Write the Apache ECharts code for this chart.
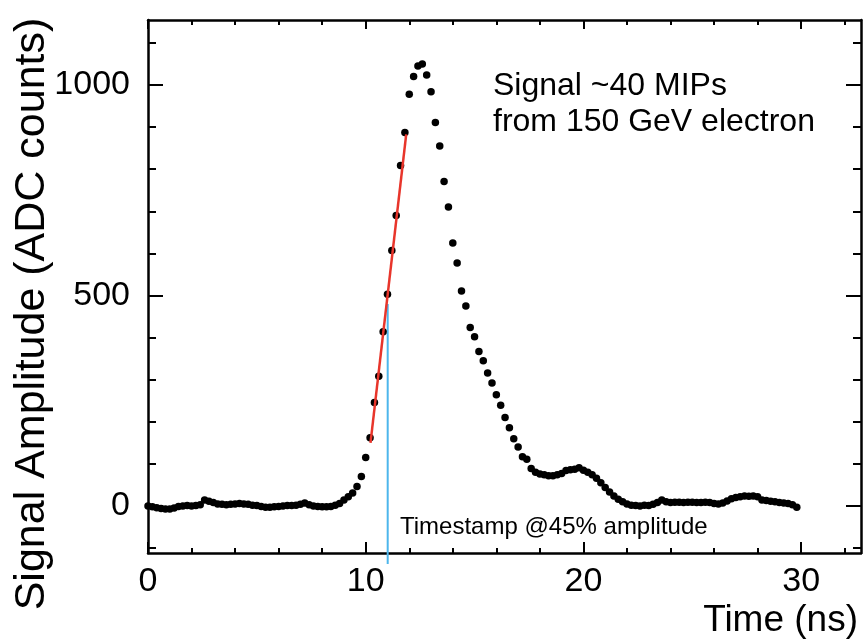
<!DOCTYPE html>
<html>
<head>
<meta charset="utf-8">
<script src="https://cdn.jsdelivr.net/npm/echarts@6/dist/echarts.min.js"></script>
<style>html,body{margin:0;padding:0;background:#fff}#c{width:864px;height:640px}</style>
</head>
<body>
<div id="c"></div>
<script>
// Sample times (ns)
var times = [
 0.0,0.2,0.4,0.6,0.8,1.0,1.2,1.4,1.6,1.8,
 2.0,2.2,2.4,2.6,2.8,3.0,3.2,3.4,3.6,3.8,
 4.0,4.2,4.4,4.6,4.8,5.0,5.2,5.4,5.6,5.8,
 6.0,6.2,6.4,6.6,6.8,7.0,7.2,7.4,7.6,7.8,
 8.0,8.2,8.4,8.6,8.8,9.0,9.2,9.4,9.6,9.8,
 10.0,10.2,10.4,10.6,10.8,11.0,11.2,11.4,11.6,11.8,
 12.0,12.2,12.4,12.6,12.8,13.0,13.2,13.4,13.6,13.8,
 14.0,14.2,14.4,14.6,14.8,15.0,15.2,15.4,15.6,15.8,
 16.0,16.2,16.4,16.6,16.8,17.0,17.2,17.4,17.6,17.8,
 18.0,18.2,18.4,18.6,18.8,19.0,19.2,19.4,19.6,19.8,
 20.0,20.2,20.4,20.6,20.8,21.0,21.2,21.4,21.6,21.8,
 22.0,22.2,22.4,22.6,22.8,23.0,23.2,23.4,23.6,23.8,
 24.0,24.2,24.4,24.6,24.8,25.0,25.2,25.4,25.6,25.8,
 26.0,26.2,26.4,26.6,26.8,27.0,27.2,27.4,27.6,27.8,
 28.0,28.2,28.4,28.6,28.8,29.0,29.2,29.4,29.6,29.8
];
// Signal amplitude (ADC counts)
var amplitude = [
 0,-2,-4,-6,-7,-7,-5,-1,0,1,
 0,1,3,14,11,8,5,4,3,4,
 5,6,5,4,2,1,-1,-3,-3,-2,
 -1,0,1,1,2,4,7,3,0,-1,
 -2,-2,-1,2,6,14,22,31,46,70,
 115,162,246,308,414,503,607,690,809,887,
 978,1020,1045,1050,1024,984,911,855,771,710,
 625,577,511,475,424,402,367,345,316,292,
 264,239,210,186,160,140,117,111,89,80,
 76,74,72,72,74,77,84,86,87,91,
 85,80,74,66,55,44,33,24,16,10,
 5,2,1,0,2,1,4,8,14,10,
 8,9,9,8,9,9,8,8,9,8,
 6,5,7,12,17,20,22,24,23,24,
 22,14,13,11,10,8,7,6,3,-3
];
// Linear fit of the rising edge
var fitLine = [[10.22, 150], [11.86, 883]];
// Timestamp marker at 45% amplitude
var timestampLine = [[11.01, 480], [11.01, -138]];

var xMajor = [0, 10, 20, 30];
var xMinor = [2,4,6,8,12,14,16,18,22,24,26,28,32];
var yMajor = [0, 500, 1000];
var yMinor = [-100,100,200,300,400,600,700,800,900,1100];

var X_MIN = 0, X_MAX = 32.75, Y_MIN = -111.7, Y_MAX = 1154.5;

var pts = times.map(function (t, i) { return [t, amplitude[i]]; });
function plain(v) { return String(Math.round(v)); }

function xAx(pos, vals, len, showLine, showLabel) {
  return {
    type: 'value', position: pos, min: X_MIN, max: X_MAX, gridIndex: 0,
    axisLine: { show: showLine, onZero: false, lineStyle: { color: '#000', width: 2.5 } },
    axisTick: { show: true, inside: true, length: len, customValues: vals, lineStyle: { color: '#000', width: 2 } },
    axisLabel: showLabel ? { show: true, customValues: vals, formatter: plain, margin: 12, fontSize: 34, fontFamily: 'Liberation Sans', color: '#000' } : { show: false },
    splitLine: { show: false }
  };
}
function yAx(pos, vals, len, showLine, showLabel) {
  return {
    type: 'value', position: pos, min: Y_MIN, max: Y_MAX, gridIndex: 0,
    axisLine: { show: showLine, onZero: false, lineStyle: { color: '#000', width: 2.5 } },
    axisTick: { show: true, inside: true, length: len, customValues: vals, lineStyle: { color: '#000', width: 2 } },
    axisLabel: showLabel ? { show: true, customValues: vals, formatter: plain, margin: 18, fontSize: 34, fontFamily: 'Liberation Sans', color: '#000' } : { show: false },
    splitLine: { show: false }
  };
}

var chart = echarts.init(document.getElementById('c'), null, { renderer: 'canvas' });
chart.setOption({
  animation: false,
  backgroundColor: '#fff',
  grid: { left: 148, right: 3, top: 20, bottom: 87, containLabel: false },
  xAxis: [
    xAx('bottom', xMajor, 11, true, true),
    xAx('bottom', xMinor, 5, false, false),
    xAx('top', xMajor, 9, true, false),
    xAx('top', xMinor, 5, false, false)
  ],
  yAxis: [
    yAx('left', yMajor, 15, true, true),
    yAx('left', yMinor, 8, false, false),
    yAx('right', yMajor, 15, true, false),
    yAx('right', yMinor, 8, false, false)
  ],
  series: [
    {
      type: 'scatter', xAxisIndex: 0, yAxisIndex: 0, data: pts,
      symbol: 'circle', symbolSize: 7.5, itemStyle: { color: '#000', opacity: 1 }, z: 3
    },
    {
      type: 'line', xAxisIndex: 0, yAxisIndex: 0, data: fitLine,
      showSymbol: false, symbol: 'none', lineStyle: { color: '#e8352b', width: 2.5 }, z: 4
    },
    {
      type: 'line', xAxisIndex: 0, yAxisIndex: 0, data: timestampLine, clip: false,
      showSymbol: false, symbol: 'none', lineStyle: { color: '#4db6ec', width: 2 }, z: 2
    }
  ],
  graphic: [
    { type: 'text', x: 32, y: 314, rotation: Math.PI / 2,
      style: { text: 'Signal Amplitude (ADC counts)', font: '43px "Liberation Sans"', fill: '#000', align: 'center', verticalAlign: 'middle' } },
    { type: 'text', x: 858, y: 621,
      style: { text: 'Time (ns)', font: '37px "Liberation Sans"', fill: '#000', align: 'right', verticalAlign: 'middle' } },
    { type: 'text', x: 493, y: 86,
      style: { text: 'Signal ~40 MIPs', font: '32px "Liberation Sans"', fill: '#000', align: 'left', verticalAlign: 'middle' } },
    { type: 'text', x: 493, y: 122,
      style: { text: 'from 150 GeV electron', font: '32px "Liberation Sans"', fill: '#000', align: 'left', verticalAlign: 'middle' } },
    { type: 'text', x: 400, y: 527,
      style: { text: 'Timestamp @45% amplitude', font: '24px "Liberation Sans"', fill: '#000', align: 'left', verticalAlign: 'middle' } }
  ]
});
</script>
</body>
</html>
